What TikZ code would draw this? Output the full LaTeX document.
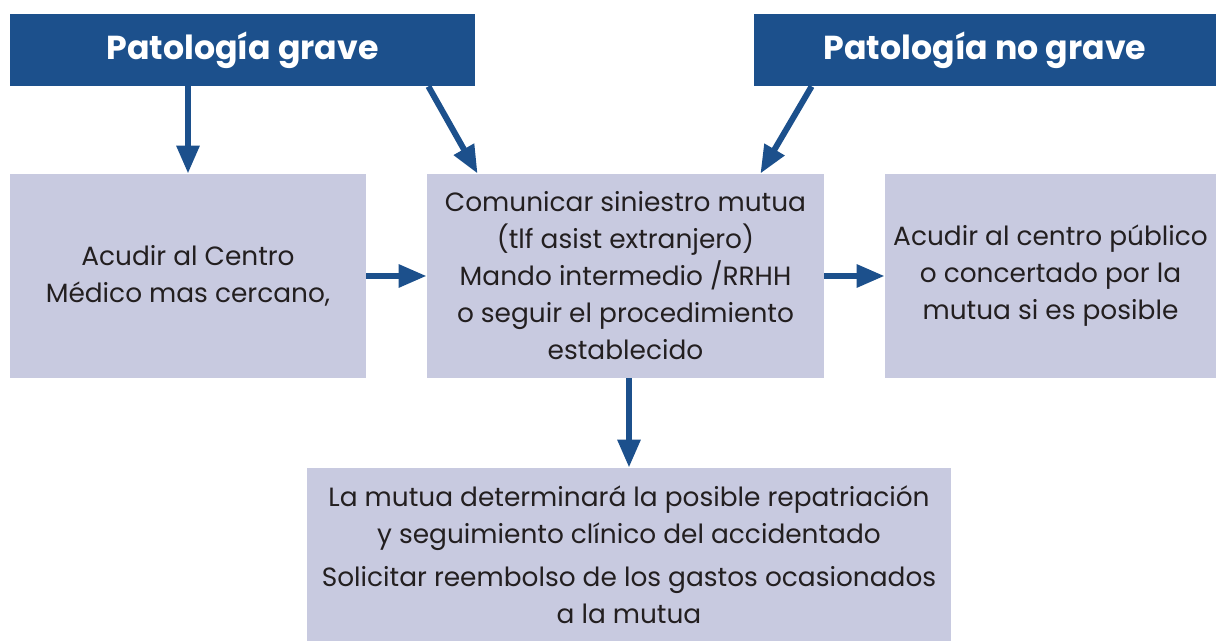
\documentclass[tikz,border=0pt]{standalone}
\usepackage{fontspec}
\setmainfont{Poppins}
\usetikzlibrary{arrows.meta,positioning,calc}
\definecolor{azulosc}{RGB}{28,80,140}
\definecolor{lila}{RGB}{200,202,224}
\definecolor{tinta}{RGB}{35,31,32}

\tikzset{
  cabecera/.style={fill=azulosc, text=white, inner sep=0pt, minimum height=36pt,
    font=\bfseries\fontsize{16.6}{19}\selectfont},
  caja/.style={fill=lila, text=tinta, align=center, inner sep=0pt,
    font=\fontsize{13.2}{18.5}\selectfont},
  flecha/.style={azulosc, line width=3pt, -{Triangle[length=14pt,width=11pt]}},
}

\begin{document}
\begin{tikzpicture}[x=0.5pt,y=0.5pt]
  \useasboundingbox (0,0) rectangle (1216,641);
  % cabeceras
  \node[cabecera, minimum width=232.5pt] (grave) at (242.5,591) {Patología grave};
  \node[cabecera, minimum width=231pt] (nograve) at (985,591) {Patología no grave};
  % cajas
  \node[caja, minimum width=178pt, minimum height=102pt] (centro) at (188,365)
    {Acudir al Centro\\Médico mas cercano,};
  \node[caja, minimum width=198.5pt, minimum height=102pt] (comunicar) at (625.5,365)
    {Comunicar siniestro mutua\\(tlf asist extranjero)\\Mando intermedio /RRHH\\o seguir el procedimiento\\establecido};
  \node[caja, minimum width=165.5pt, minimum height=102pt] (publico) at (1050.5,365)
    {Acudir al centro público\\o concertado por la\\mutua si es posible};
  \node[caja, minimum width=322pt, minimum height=86.5pt] (mutua) at (629,86.5)
    {La mutua determinará la posible repatriación\\y seguimiento clínico del accidentado\\[3pt]
     Solicitar reembolso de los gastos ocasionados\\a la mutua};
  % flechas
  \draw[flecha] (grave.south -| centro.north) -- (centro.north);
  \draw[flecha] ([xshift=-23.5pt]grave.south east) -- ([xshift=25.5pt]comunicar.north west);
  \draw[flecha] ([xshift=29pt]nograve.south west) -- ([xshift=-32pt]comunicar.north east);
  \draw[flecha] (centro.east) -- (comunicar.west);
  \draw[flecha] (comunicar.east) -- (publico.west);
  \draw[flecha] (mutua.north |- comunicar.south) -- (mutua.north);
\end{tikzpicture}
\end{document}
